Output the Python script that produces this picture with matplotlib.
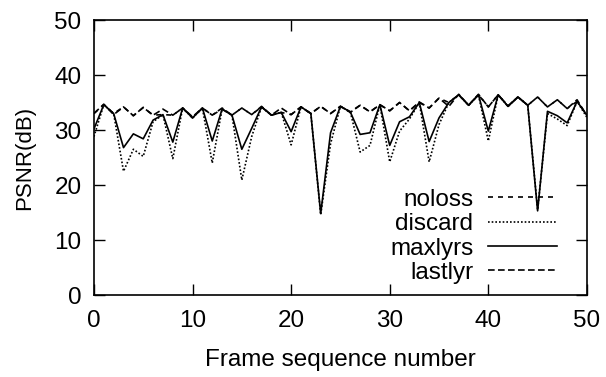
import matplotlib
matplotlib.use('Agg')
import matplotlib.pyplot as plt
import numpy as np

frames = list(range(51))

lastlyr = [33.0, 34.7, 32.8, 34.2, 32.6, 34.1, 32.7, 33.8, 32.7, 34.0,
           32.4, 34.0, 32.7, 34.0, 32.7, 34.0, 32.8, 34.3, 32.7, 34.0,
           32.8, 34.2, 33.0, 34.3, 33.0, 34.3, 33.2, 34.5, 33.3, 34.6,
           33.5, 35.0, 33.5, 35.1, 34.0, 35.8, 34.3, 36.5, 34.5, 36.5,
           34.2, 36.4, 34.4, 36.0, 34.5, 36.0, 34.2, 35.5, 33.9, 35.5, 32.6]

maxlyrs = [30.2, 34.6, 33.0, 26.8, 29.3, 28.4, 31.8, 32.8, 27.8, 34.0,
           32.2, 34.0, 28.0, 33.8, 32.7, 26.5, 30.3, 34.2, 32.7, 33.2,
           29.7, 34.2, 33.0, 14.8, 29.5, 34.3, 33.3, 29.2, 29.5, 34.6,
           27.2, 31.5, 32.4, 35.0, 27.9, 32.2, 35.0, 36.4, 34.5, 36.4,
           29.8, 36.4, 34.3, 36.0, 34.5, 15.3, 33.4, 32.6, 31.3, 35.2, 32.7]

discard = [28.8, 34.6, 33.0, 22.5, 26.5, 25.2, 31.5, 32.8, 24.8, 34.0,
           32.2, 34.0, 24.0, 33.8, 32.7, 20.9, 28.8, 34.2, 32.7, 33.2,
           27.3, 34.2, 33.0, 14.6, 27.5, 34.3, 33.3, 26.0, 27.2, 34.6,
           24.2, 29.8, 32.0, 35.0, 24.2, 31.0, 35.0, 36.4, 34.5, 36.4,
           28.0, 36.4, 34.3, 36.0, 34.5, 15.5, 33.0, 32.0, 30.8, 35.2, 32.3]

noloss = [33.0, 34.6, 33.0, 34.2, 32.6, 34.1, 32.7, 32.8, 32.7, 34.0,
          32.2, 34.0, 32.7, 33.8, 32.7, 34.0, 32.8, 34.2, 32.7, 33.2,
          32.8, 34.2, 33.0, 34.3, 33.0, 34.3, 33.3, 34.5, 33.3, 34.6,
          33.5, 35.0, 33.5, 35.0, 34.0, 35.8, 35.0, 36.4, 34.5, 36.4,
          34.2, 36.4, 34.3, 36.0, 34.5, 36.0, 34.2, 35.5, 33.9, 35.2, 32.7]

plt.rcParams['font.family'] = ['Liberation Sans', 'DejaVu Sans']
fs = 17.5

fig = plt.figure(figsize=(6.06, 3.77), dpi=100)
ax = fig.add_axes([0.155, 0.2175, 0.8135, 0.7294])

lw = 1.2
ax.plot(frames, noloss, color='black', lw=lw, dashes=(3, 3), label='noloss')
ax.plot(frames, discard, color='black', lw=lw, dashes=(1, 1.2), label='discard')
ax.plot(frames, maxlyrs, color='black', lw=lw, label='maxlyrs')
ax.plot(frames, lastlyr, color='black', lw=lw, dashes=(4, 2), label='lastlyr')

ax.set_xlim(0, 50)
ax.set_ylim(0, 50)
ax.set_xticks(range(0, 51, 10))
ax.set_yticks(range(0, 51, 10))
ax.tick_params(direction='in', length=8, width=1, top=True, right=True, labelsize=fs)
ax.tick_params(axis='x', pad=11)
ax.tick_params(axis='y', pad=9)
for s in ax.spines.values():
    s.set_linewidth(1.2)

ax.set_xlabel('Frame sequence number', fontsize=fs, labelpad=12)
ax.set_ylabel('PSNR(dB)', fontsize=16, labelpad=14)

ax.legend(loc='lower right', frameon=False, markerfirst=False, fontsize=fs,
          handlelength=2.85, handletextpad=0.6, labelspacing=0.1,
          borderpad=0, borderaxespad=0, bbox_to_anchor=(0.94, 0.04))

fig.savefig('out.png', dpi=100)
